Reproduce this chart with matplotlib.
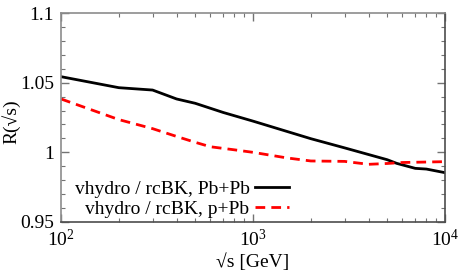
import matplotlib
matplotlib.use("Agg")
import matplotlib.pyplot as plt
from matplotlib.ticker import FixedLocator, NullFormatter, MultipleLocator

plt.rcParams['font.family'] = ['Liberation Serif', 'DejaVu Serif']
plt.rcParams['mathtext.fontset'] = 'custom'
plt.rcParams['mathtext.rm'] = 'Liberation Serif'
plt.rcParams['mathtext.it'] = 'Liberation Serif:italic'

sqrt_s_pbpb = [100, 200, 300, 400, 500, 700, 1000, 2000, 3000, 5000, 5600, 7000, 8000, 10000]
r_pbpb = [1.0543, 1.0464, 1.0447, 1.0383, 1.0352, 1.0286, 1.0224, 1.0098, 1.0032, 0.9947, 0.9921, 0.9885, 0.9880, 0.9854]

sqrt_s_ppb = [100, 200, 300, 400, 500, 600, 800, 1000, 1500, 2000, 3000, 4000, 5000, 6000, 10000]
r_ppb = [1.0383, 1.0235, 1.0170, 1.0114, 1.0072, 1.0040, 1.0018, 1.0000, 0.9960, 0.9938, 0.9935, 0.9914, 0.9920, 0.9927, 0.9933]

labels = ['vhydro / rcBK, Pb+Pb', 'vhydro / rcBK, p+Pb']

fig = plt.figure(figsize=(4.63, 2.78), dpi=100)
ax = fig.add_axes([61/463, 1 - 222/278, (445-61)/463, (222-13)/278])

ax.plot(sqrt_s_pbpb, r_pbpb, color='black', lw=2.0, label=labels[0])
ax.plot(sqrt_s_ppb, r_ppb, color='#ff0000', lw=2.0, ls=(0, (3.5, 2.2)), label=labels[1])

ax.set_xscale('log')
ax.set_xlim(100, 10000)
ax.set_ylim(0.95, 1.1)
ax.set_xticks([100, 1000, 10000])
ax.set_xticklabels(['10$^{2}$', '10$^{3}$', '10$^{4}$'])
ax.set_yticks([0.95, 1.0, 1.05, 1.1])
ax.set_yticklabels(['0.95', '1', '1.05', '1.1'])
ax.yaxis.set_minor_locator(MultipleLocator(0.01))
ax.xaxis.set_minor_formatter(NullFormatter())

ax.tick_params(which='both', direction='in', top=True, right=True, labelsize=14, colors='0.45', labelcolor='black')
ax.tick_params(which='major', length=6, width=1.0, pad=5)
ax.tick_params(which='minor', length=3, width=0.8)
for s in ['left', 'top']:
    ax.spines[s].set_color('0.55')
for s in ['bottom', 'right']:
    ax.spines[s].set_color('0.3')
for s in ax.spines.values():
    s.set_linewidth(1.2)

ax.set_xlabel('√s [GeV]', fontsize=14, labelpad=2)
ax.set_ylabel('R(√s)', fontsize=14)
ax.yaxis.set_label_coords(-0.105, 0.48)

leg = ax.legend(loc='lower left', bbox_to_anchor=(0.0, -0.045), frameon=False, fontsize=14,
                markerfirst=False, handlelength=1.7, handletextpad=0.3, labelspacing=0.1,
                borderpad=0.2)
for t in leg.get_texts():
    t.set_ha('right')
fig.savefig('out.png', dpi=100)
